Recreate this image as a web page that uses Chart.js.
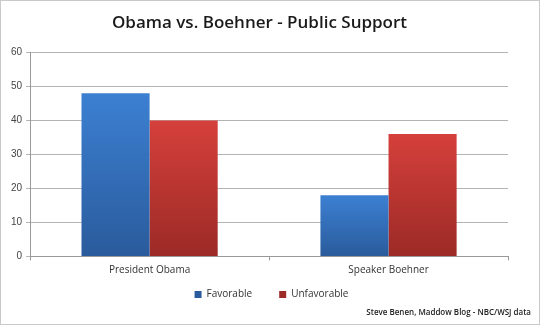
<!DOCTYPE html>
<html>
<head>
<meta charset="utf-8">
<script src="https://cdn.jsdelivr.net/npm/chart.js@4/dist/chart.umd.min.js"></script>
<style>
  html, body { margin: 0; padding: 0; background: #fff; }
  #wrap { width: 540px; height: 325px; box-sizing: border-box; border: 1px solid #c9c9c9; }
  canvas { display: block; }
</style>
</head>
<body>
<div id="wrap"><canvas id="chart" width="538" height="323"></canvas></div>
<script>
// Data
const categories = ['President Obama', 'Speaker Boehner'];
const favorable = [48, 18];
const unfavorable = [40, 36];
const yTicks = [0, 10, 20, 30, 40, 50, 60];
const sourceNote = 'Steve Benen, Maddow Blog - NBC/WSJ data';

// vertical gradient for each bar, light at top, darker at the base
function barGradient(top, bottom) {
  return function(ctx) {
    const chart = ctx.chart;
    if (!chart.chartArea || ctx.parsed == null) return bottom;
    const y = chart.scales.y;
    const y0 = y.getPixelForValue(ctx.parsed.y);
    const y1 = y.getPixelForValue(0);
    const g = chart.ctx.createLinearGradient(0, y0, 0, y1);
    g.addColorStop(0, top);
    g.addColorStop(1, bottom);
    return g;
  };
}

// wide legend spacing but a short legend box; nudge legend and source note
const bottomTweaks = {
  id: 'bottomTweaks',
  beforeLayout(chart) {
    const lg = chart.legend;
    if (!lg || lg._patched) return;
    const fit = lg.fit;
    lg.fit = function() {
      fit.call(this);
      this.height = 26;
    };
    lg._patched = true;
  },
  afterLayout(chart) {
    const lg = chart.legend;
    if (lg) {
      lg.top -= 18;
      lg.left += 12; lg.right += 12;
    }
    const note = chart.boxes.find(b => b.options && b.options.text === sourceNote);
    if (note) { note.left += 19; note.right += 19; }
  }
};

const font = "'Open Sans', 'Liberation Sans', sans-serif";

new Chart(document.getElementById('chart').getContext('2d'), {
  type: 'bar',
  data: {
    labels: categories,
    datasets: [
      {
        label: 'Favorable',
        data: favorable,
        backgroundColor: barGradient('#3c80d2', '#2a5b9c'),
        borderWidth: 0,
        categoryPercentage: 0.57,
        barPercentage: 1.0
      },
      {
        label: 'Unfavorable',
        data: unfavorable,
        backgroundColor: barGradient('#d5403b', '#9c2a26'),
        borderWidth: 0,
        categoryPercentage: 0.57,
        barPercentage: 1.0
      }
    ]
  },
  plugins: [bottomTweaks],
  options: {
    responsive: false,
    animation: false,
    layout: { padding: { left: 6, right: 27, top: 0, bottom: 4 } },
    plugins: {
      title: {
        display: true,
        text: 'Obama vs. Boehner - Public Support',
        color: '#1a1a1a',
        font: { family: font, size: 17, weight: '600' },
        padding: { top: 12, bottom: 19 }
      },
      subtitle: {
        display: true,
        position: 'bottom',
        align: 'end',
        text: sourceNote,
        color: '#222',
        font: { family: font, size: 8, weight: '600' },
        padding: { top: 2, bottom: 2 }
      },
      legend: {
        position: 'bottom',
        labels: {
          boxWidth: 7,
          boxHeight: 7,
          color: '#333',
          padding: 27,
          font: { family: font, size: 10 }
        }
      },
      tooltip: { enabled: false }
    },
    scales: {
      x: {
        grid: {
          offset: true,
          drawOnChartArea: false,
          drawTicks: true,
          tickLength: 4,
          color: '#999'
        },
        border: { color: '#999' },
        ticks: { color: '#333', font: { family: font, size: 10 }, padding: 4 }
      },
      y: {
        min: 0,
        max: 60,
        afterBuildTicks: axis => { axis.ticks = yTicks.map(v => ({ value: v })); },
        grid: { color: '#b4b4b4', tickLength: 4 },
        border: { color: '#999' },
        ticks: { color: '#444', font: { family: "'Liberation Sans', Arial, sans-serif", size: 10 }, padding: 4 }
      },
      y2: {
        position: 'right',
        display: true,
        grid: { display: false },
        ticks: { display: false },
        border: { display: false },
        afterFit(axis) { axis.width = 4; }
      }
    }
  }
});
</script>
</body>
</html>
